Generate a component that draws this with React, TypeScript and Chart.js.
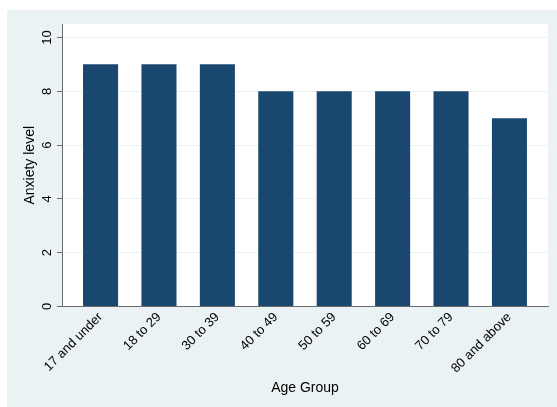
import React, { useEffect, useRef } from "react";
import { Chart, registerables } from "chart.js";

Chart.register(...registerables);

const categories = [
  "17 and under",
  "18 to 29",
  "30 to 39",
  "40 to 49",
  "50 to 59",
  "60 to 69",
  "70 to 79",
  "80 and above",
];
const anxietyValues = [9, 9, 9, 8, 8, 8, 8, 7];
const yTicks = [0, 2, 4, 6, 8, 10];
const xTitle = "Age Group";
const yTitle = "Anxiety level";

const FONT = "'Liberation Sans', Arial, sans-serif";
const OUTER_BG = "#eaf2f3";
const BAR = "#1a476f";
const AXIS = "#6b6b6b";

export default function App() {
  const ref = useRef<HTMLCanvasElement | null>(null);

  useEffect(() => {
    if (!ref.current) return;
    const bgPlugin = {
      id: "stataBg",
      beforeDraw(chart: any) {
        const { ctx, chartArea } = chart;
        ctx.save();
        ctx.fillStyle = "#ffffff";
        ctx.fillRect(0, 0, chart.width, chart.height);
        ctx.fillStyle = OUTER_BG;
        ctx.fillRect(7, 10, chart.width - 7, chart.height - 10);
        ctx.fillStyle = "#ffffff";
        ctx.fillRect(
          chartArea.left,
          chartArea.top,
          chartArea.right - chartArea.left,
          chartArea.bottom - chartArea.top
        );
        ctx.restore();
      },
      afterDraw(chart: any) {
        const { ctx, chartArea } = chart;
        const ys = chart.scales.y;
        ctx.save();
        ctx.fillStyle = "#000000";
        ctx.font = `13px ${FONT}`;
        ctx.textAlign = "center";
        ctx.textBaseline = "middle";
        for (const v of yTicks) {
          const py = ys.getPixelForValue(v);
          ctx.save();
          ctx.translate(47, py);
          ctx.rotate(-Math.PI / 2);
          ctx.fillText(String(v), 0, 0);
          ctx.restore();
        }
        ctx.font = `14px ${FONT}`;
        ctx.save();
        ctx.translate(30, (chartArea.top + chartArea.bottom) / 2);
        ctx.rotate(-Math.PI / 2);
        ctx.fillText(yTitle, 0, 0);
        ctx.restore();
        ctx.fillText(xTitle, (chartArea.left + chartArea.right) / 2, 388);
        ctx.restore();
      },
    };

    const chart = new Chart(ref.current, {
      type: "bar",
      data: {
        datasets: [
          {
            data: anxietyValues.map((v, i) => ({ x: i, y: v })),
            backgroundColor: BAR,
            borderWidth: 0,
            categoryPercentage: 1,
            barPercentage: 0.6,
          },
        ],
      },
      options: {
        animation: false,
        responsive: true,
        maintainAspectRatio: false,
        layout: { padding: { top: 24, right: 9, left: 0, bottom: 0 } },
        plugins: {
          legend: { display: false },
          tooltip: { enabled: false },
        },
        scales: {
          x: {
            type: "linear",
            offset: false,
            min: -0.66,
            max: 7.66,
            afterBuildTicks: (scale: any) => {
              scale.ticks = categories.map((_, i) => ({ value: i }));
            },
            afterFit: (scale: any) => {
              scale.height = 100.5;
            },
            ticks: {
              autoSkip: false,
              minRotation: 45,
              maxRotation: 45,
              padding: -5,
              color: "#000000",
              font: { family: FONT, size: 13 },
              callback: (v: any) => categories[Number(v)] ?? "",
            },
            grid: { display: false },
            border: { display: true, color: AXIS, width: 1 },
          },
          y: {
            min: 0,
            max: 10.5,
            afterBuildTicks: (scale: any) => {
              scale.ticks = yTicks.map((v) => ({ value: v }));
            },
            afterFit: (scale: any) => {
              scale.width = 62;
            },
            ticks: { display: false },
            grid: {
              color: OUTER_BG,
              tickColor: AXIS,
              tickLength: 5,
              drawTicks: true,
            },
            border: { display: true, color: AXIS, width: 1 },
          },
        },
      },
      plugins: [bgPlugin],
    });
    return () => chart.destroy();
  }, []);

  return (
    <div style={{ position: "absolute", left: 0, top: 0, width: 557, height: 407 }}>
      <canvas ref={ref} />
    </div>
  );
}
